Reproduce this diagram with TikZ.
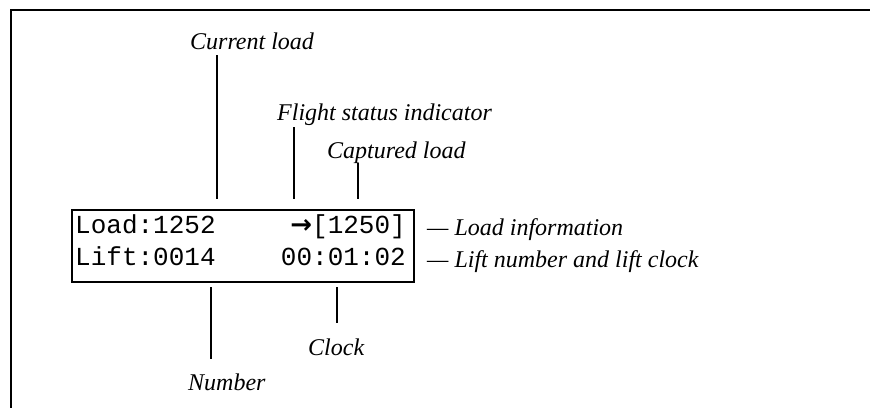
\documentclass[tikz,border=0pt]{standalone}
\usepackage{fontspec}
\setmainfont{Liberation Serif}
\setmonofont{Liberation Mono}
\newfontfamily\arrowfont{DejaVu Sans}
\begin{document}
\begin{tikzpicture}[x=1pt,y=-1pt,
  lbl/.style={inner sep=0pt,anchor=base west,font=\fontsize{24}{28}\selectfont\itshape},
  lcd/.style={inner sep=0pt,font=\fontsize{26}{30}\selectfont\ttfamily},
  lead/.style={line width=2pt},
  frame/.style={line width=2pt}]
\useasboundingbox (0,0) rectangle (870,407);
% outer frame
\draw[frame] (11,420) -- (11,10) -- (880,10);
% display box
\node[draw,line width=2pt,minimum width=342pt,minimum height=72pt,inner sep=0pt,anchor=north west] (disp) at (71,209) {};
% display text
\node[lcd,anchor=base west] (l1) at (75,233) {Load:1252};
\node[lcd,anchor=base east] (r1) at (406,233) {{\arrowfont\bfseries\fontsize{26}{30}\selectfont →}[1250]};
\node[lcd,anchor=base west] (l2) at (75,265) {Lift:0014};
\node[lcd,anchor=base east] (r2) at (406,265) {00:01:02};
% labels
\node[lbl] (cur) at (190,49) {Current load};
\node[lbl] (fsi) at (277,120) {Flight status indicator};
\node[lbl] (cap) at (327,158) {Captured load};
\node[lbl] (num) at (188,390) {Number};
\node[lbl] (clk) at (308,355) {Clock};
\node[lbl] (li) at (427,235) {— Load information};
\node[lbl] (ln) at (427,267) {— Lift number and lift clock};
% leader lines
\coordinate (curA) at (217,55);  \coordinate (curB) at (217,199);
\coordinate (fsiA) at (294,127); \coordinate (fsiB) at (294,199);
\coordinate (capA) at (357.5,163); \coordinate (capB) at (357.5,199);
\coordinate (numA) at (211,287); \coordinate (numB) at (211,359);
\coordinate (clkA) at (337,287); \coordinate (clkB) at (337,323);
\draw[lead] (curA) -- (curB);
\draw[lead] (fsiA) -- (fsiB);
\draw[lead] (capA) -- (capB);
\draw[lead] (numA) -- (numB);
\draw[lead] (clkA) -- (clkB);
\end{tikzpicture}
\end{document}
